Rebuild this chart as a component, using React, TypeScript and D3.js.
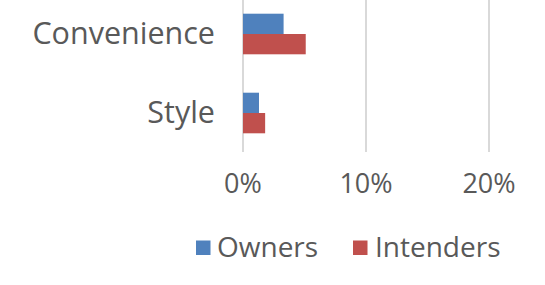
import React from "react";
import * as d3 from "d3";

const categories = ["Convenience", "Style"];
const owners = [0.033, 0.013];
const intenders = [0.051, 0.018];
const xTicks = [0, 0.1, 0.2];
const seriesNames = ["Owners", "Intenders"];
const colors = ["#4F81BD", "#C0504D"];

const W = 545;
const H = 285;
const FONT = "'Open Sans', Lato, sans-serif";

export default function App() {
  const x = d3.scaleLinear().domain([0, 0.2]).range([243, 489]);
  const y = d3.scaleBand<string>().domain(categories).range([-5.5, 152.5]);
  const barH = 20.3;
  const series = [owners, intenders];
  return (
    <svg width={W} height={H} style={{ position: "absolute", left: 0, top: 0, background: "#fff" }}>
      {xTicks.map((t) => (
        <line key={t} x1={x(t)} x2={x(t)} y1={0} y2={152} stroke="#d9d9d9" strokeWidth={2} />
      ))}
      {categories.map((c, i) => {
        const cy = (y(c) as number) + y.bandwidth() / 2;
        return (
          <g key={c}>
            {series.map((s, k) => (
              <rect
                key={k}
                x={x(0)}
                y={cy - barH + k * barH}
                width={x(s[i]) - x(0)}
                height={barH}
                fill={colors[k]}
              />
            ))}
            <text
              x={215}
              y={cy - 0.5}
              dy="0.35em"
              textAnchor="end"
              fontFamily={FONT}
              fontSize={30.5}
              fill="#595959"
            >
              {c}
            </text>
          </g>
        );
      })}
      {xTicks.map((t) => (
        <text
          key={t}
          x={x(t)}
          y={184}
          dy="0.35em"
          textAnchor="middle"
          fontFamily={FONT}
          fontSize={27}
          fill="#595959"
        >
          {d3.format(".0%")(t)}
        </text>
      ))}
      <g>
        <rect x={196} y={240.5} width={14.5} height={14.5} fill={colors[0]} />
        <text x={217} y={247.5} dy="0.35em" fontFamily={FONT} fontSize={28} fill="#595959">
          {seriesNames[0]}
        </text>
        <rect x={353} y={240.5} width={14.5} height={14.5} fill={colors[1]} />
        <text x={375} y={247.5} dy="0.35em" fontFamily={FONT} fontSize={28} fill="#595959">
          {seriesNames[1]}
        </text>
      </g>
    </svg>
  );
}
